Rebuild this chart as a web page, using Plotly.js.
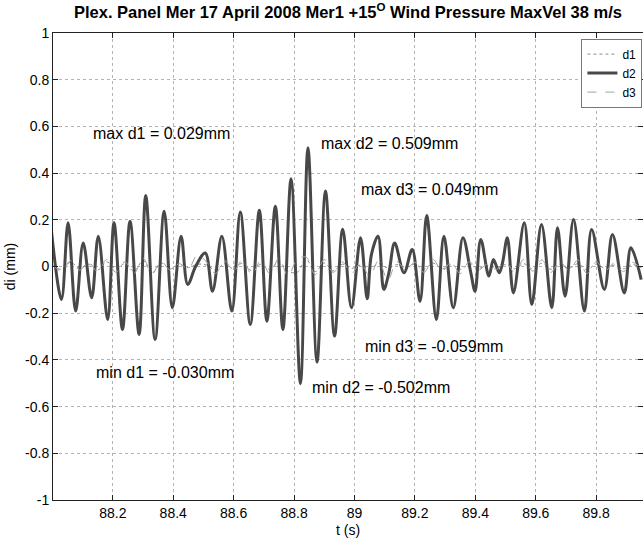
<!DOCTYPE html>
<html>
<head>
<meta charset="utf-8">
<script src="https://cdn.plot.ly/plotly-3.0.1.min.js"></script>
<style>html,body{margin:0;padding:0;background:#fff;overflow:hidden}#chart{width:643px;height:540px}</style>
</head>
<body>
<div id="chart"></div>
<script>
// d2 extrema (time s, displacement mm)
var d2T = [87.997, 88.030, 88.052, 88.077, 88.102, 88.130, 88.152, 88.183, 88.204, 88.232, 88.257, 88.287, 88.309, 88.340, 88.370, 88.397, 88.426, 88.448, 88.474, 88.506, 88.530, 88.561, 88.594, 88.622, 88.655, 88.685, 88.710, 88.738, 88.763, 88.790, 88.821, 88.846, 88.876, 88.904, 88.934, 88.961, 88.990, 89.020, 89.042, 89.056, 89.078, 89.097, 89.114, 89.133, 89.164, 89.191, 89.217, 89.239, 89.271, 89.296, 89.327, 89.359, 89.385, 89.399, 89.418, 89.445, 89.460, 89.479, 89.490, 89.506, 89.526, 89.562, 89.587, 89.619, 89.653, 89.672, 89.697, 89.725, 89.761, 89.785, 89.827, 89.854, 89.893, 89.915, 89.949];
var d2V = [0.15, -0.141, 0.187, -0.191, 0.101, -0.134, 0.13, -0.227, 0.187, -0.27, 0.194, -0.291, 0.304, -0.313, 0.237, -0.177, 0.13, -0.077, 0.0, 0.058, -0.106, 0.13, -0.191, 0.233, -0.248, 0.241, -0.234, 0.258, -0.27, 0.376, -0.502, 0.509, -0.41, 0.323, -0.298, 0.16, -0.177, 0.123, -0.138, 0.051, 0.13, -0.098, -0.026, 0.101, -0.027, 0.073, -0.149, 0.218, -0.227, 0.13, -0.177, 0.123, -0.026, -0.106, 0.116, -0.041, 0.03, -0.027, 0.016, 0.123, -0.113, 0.187, -0.163, 0.18, -0.177, 0.166, -0.127, 0.201, -0.191, 0.158, -0.098, 0.137, -0.113, 0.08, -0.056];

// d1 and d3: small signals near zero (estimated)
var smallT = [88.00, 88.03, 88.06, 88.09, 88.12, 88.15, 88.18, 88.21, 88.24, 88.27, 88.30, 88.33, 88.36, 88.39, 88.42, 88.45, 88.48, 88.51, 88.54, 88.57, 88.60, 88.63, 88.66, 88.69, 88.72, 88.75, 88.78, 88.81, 88.84, 88.87, 88.90, 88.93, 88.96, 88.99, 89.02, 89.05, 89.08, 89.11, 89.14, 89.17, 89.20, 89.23, 89.26, 89.29, 89.32, 89.35, 89.38, 89.41, 89.44, 89.47, 89.50, 89.53, 89.56, 89.59, 89.62, 89.65, 89.68, 89.71, 89.74, 89.77, 89.80, 89.83, 89.86, 89.89, 89.92, 89.95];
var d1V = [0.005, -0.012, 0.018, -0.008, 0.010, -0.015, 0.020, -0.010, 0.012, -0.020, 0.025, -0.030, 0.015, -0.010, 0.008, -0.005, 0.010, 0.006, -0.015, 0.012, -0.010, 0.015, -0.018, 0.010, -0.012, 0.020, -0.020, -0.025, 0.029, -0.022, 0.015, -0.018, 0.010, -0.008, 0.006, -0.010, 0.012, -0.006, 0.008, -0.004, 0.010, -0.012, 0.015, -0.010, 0.008, -0.012, 0.010, -0.008, 0.005, -0.004, 0.008, -0.010, 0.012, -0.010, 0.014, -0.012, 0.010, -0.008, 0.012, -0.014, 0.010, -0.008, 0.006, -0.010, 0.008, -0.006];
var d3V = [0.010, -0.020, 0.025, -0.015, 0.018, -0.022, 0.030, -0.025, 0.020, -0.030, 0.035, -0.028, 0.022, -0.015, 0.012, -0.010, 0.049, 0.020, -0.030, 0.025, -0.020, 0.030, -0.035, 0.025, -0.030, 0.035, -0.040, 0.030, 0.040, -0.035, 0.030, -0.025, 0.020, -0.030, 0.015, -0.040, 0.025, -0.059, 0.020, -0.015, 0.018, -0.025, 0.030, -0.020, 0.018, -0.030, 0.020, -0.015, 0.010, -0.012, 0.020, -0.025, 0.030, -0.020, 0.028, -0.025, 0.022, -0.018, 0.028, -0.030, 0.020, -0.018, 0.015, -0.022, 0.018, -0.015];

var xTickVals = [88.2, 88.4, 88.6, 88.8, 89, 89.2, 89.4, 89.6, 89.8];
var xTickText = ["88.2", "88.4", "88.6", "88.8", "89", "89.2", "89.4", "89.6", "89.8"];
var yTickVals = [-1, -0.8, -0.6, -0.4, -0.2, 0, 0.2, 0.4, 0.6, 0.8, 1];
var yTickText = ["-1", "-0.8", "-0.6", "-0.4", "-0.2", "0", "0.2", "0.4", "0.6", "0.8", "1"];

var labelText = ["max d1 = 0.029mm", "max d2 = 0.509mm", "max d3 = 0.049mm", "min d1 = -0.030mm", "min d2 = -0.502mm", "min d3 = -0.059mm"];
var labelX = [88.129, 88.882, 89.014, 88.139, 88.852, 89.027];
var labelY = [0.569, 0.526, 0.329, -0.452, -0.52, -0.344];

var traces = [
  {x: smallT, y: d1V, name: 'd1', mode: 'lines', line: {color: '#8a8a8a', width: 1, dash: 'dot', shape: 'spline'}},
  {x: d2T, y: d2V, name: 'd2', mode: 'lines', line: {color: '#484848', width: 3, shape: 'spline'}},
  {x: smallT, y: d3V, name: 'd3', mode: 'lines', line: {color: '#a0a0a0', width: 1, dash: 'dash', shape: 'spline'}}
];

var annotations = labelText.map(function (t, i) {
  return {x: labelX[i], y: labelY[i], xref: 'x', yref: 'y', text: t, showarrow: false,
          xanchor: 'left', yanchor: 'middle', font: {size: 16, color: '#000'}};
});
annotations.push({x: 0.5, y: -0.042, xref: 'paper', yref: 'paper', text: 't (s)', showarrow: false,
                  xanchor: 'center', yanchor: 'top', font: {size: 14, color: '#000'}});

var axisCommon = {
  showline: true, linecolor: '#222', linewidth: 1, mirror: 'ticks',
  ticks: 'inside', ticklen: 5, tickcolor: '#222',
  showgrid: true, gridcolor: '#b4b4b4', griddash: 'dot', gridwidth: 1,
  zeroline: false, tickfont: {family: 'Liberation Sans, Arial, sans-serif', size: 14, color: '#000'}
};

var layout = {
  width: 643, height: 540,
  margin: {l: 53, r: 0, t: 33, b: 40},
  paper_bgcolor: '#fff', plot_bgcolor: '#fff',
  font: {family: 'Liberation Sans, Arial, sans-serif', color: '#000'},
  title: {text: '<b>Plex. Panel Mer 17 April 2008 Mer1 +15<sup>O</sup> Wind Pressure MaxVel 38 m/s</b>',
          x: 0.5, xref: 'paper', y: 0.977, yref: 'container', yanchor: 'middle', font: {size: 16.5, color: '#000'}},
  xaxis: Object.assign({}, axisCommon, {range: [88.002, 89.955], tickvals: xTickVals, ticktext: xTickText}),
  yaxis: Object.assign({}, axisCommon, {range: [-1, 1], tickvals: yTickVals, ticktext: yTickText,
          title: {text: 'di (mm)', font: {size: 14}, standoff: 6}}),
  showlegend: true,
  legend: {x: 0.999, y: 0.988, xanchor: 'right', yanchor: 'top', bgcolor: '#fff',
           bordercolor: '#777', borderwidth: 1, font: {size: 12}, tracegroupgap: 0, itemwidth: 30},
  annotations: annotations
};

Plotly.newPlot('chart', traces, layout, {staticPlot: true, displayModeBar: false});
</script>
</body>
</html>
